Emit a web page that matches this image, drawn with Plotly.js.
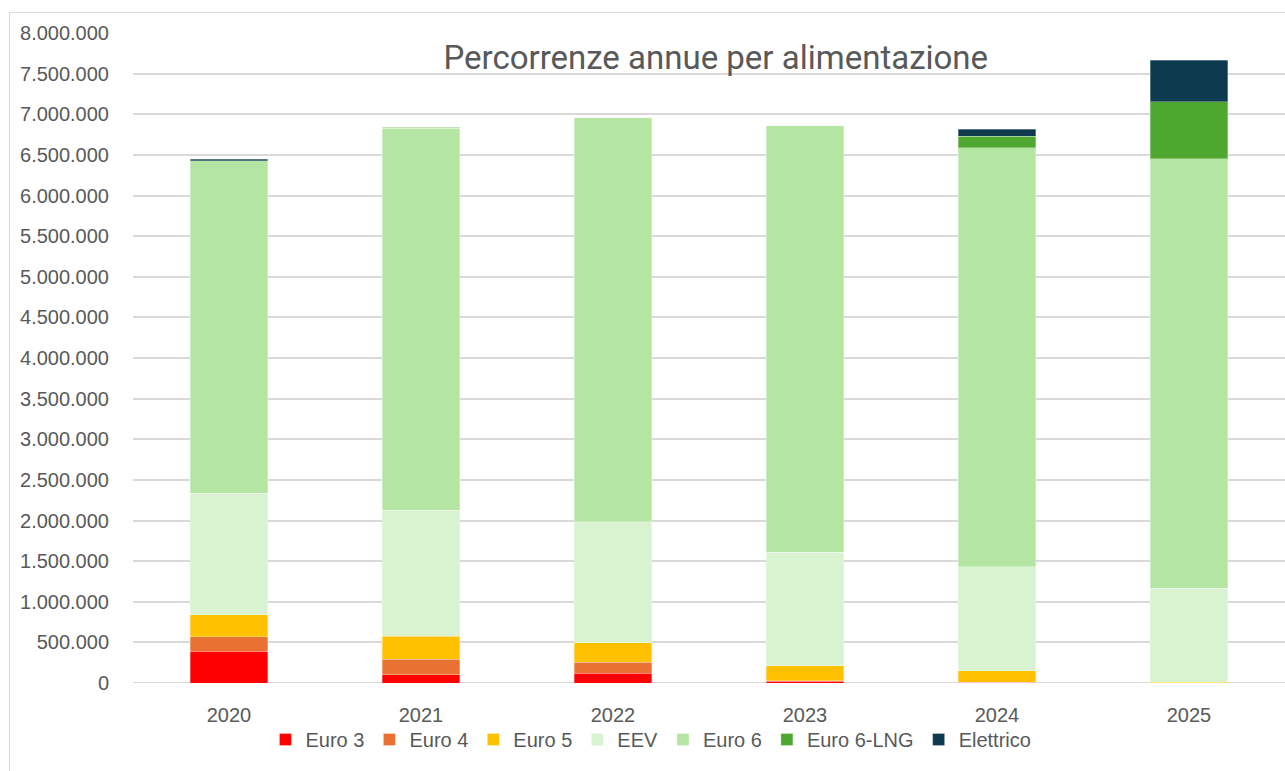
<!DOCTYPE html>
<html>
<head>
<meta charset="utf-8">
<script src="https://cdn.plot.ly/plotly-3.0.1.min.js"></script>
<style>
html,body{margin:0;padding:0;background:#fff;}
#frame{position:absolute;left:9px;top:12px;width:1290px;height:770px;border:1px solid #d9d9d9;box-sizing:border-box;}
#chart{position:absolute;left:0;top:0;width:1285px;height:771px;}
</style>
</head>
<body>
<div id="frame"></div>
<div id="chart"></div>
<script>
const years = ["2020", "2021", "2022", "2023", "2024", "2025"];
const seriesNames = ["Euro 3", "Euro 4", "Euro 5", "EEV", "Euro 6", "Euro 6-LNG", "Elettrico"];
const colors = ["#FF0000", "#E97132", "#FFC000", "#D9F2D0", "#B4E5A2", "#4EA72E", "#0E3A4F"];
const euro3 = [390000, 100000, 120000, 20000, 10000, 0];
const euro4 = [180000, 190000, 135000, 10000, 0, 0];
const euro5 = [267000, 288000, 241000, 180000, 138000, 10000];
const eev = [1500000, 1550000, 1490000, 1400000, 1282000, 1155000];
const euro6 = [4090000, 4700000, 4970000, 5250000, 5160000, 5290000];
const euro6lng = [0, 10000, 0, 0, 140000, 700000];
const elettrico = [20000, 0, 0, 0, 85000, 510000];
const values = [euro3, euro4, euro5, eev, euro6, euro6lng, elettrico];

const traces = seriesNames.map((n, i) => ({
  type: "bar",
  name: n,
  x: years,
  y: values[i],
  marker: {color: colors[i], line: {color: "rgba(255,255,255,0.6)", width: 0.5}},
  hoverinfo: "x+y+name"
}));

function fmt(v){ if(v===0) return "0"; return String(v).replace(/\B(?=(\d{3})+(?!\d))/g, "."); }
const tickVals = [];
const tickText = [];
for (let v = 0; v <= 8000000; v += 500000) { tickVals.push(v); tickText.push(fmt(v)); }

const layout = {
  width: 1285, height: 771,
  paper_bgcolor: "rgba(0,0,0,0)", plot_bgcolor: "rgba(0,0,0,0)",
  barmode: "stack",
  bargap: 0.595,
  margin: {l: 133, r: 0, t: 33, b: 88},
  font: {family: "Liberation Sans, Arial, sans-serif", color: "#595959", size: 20},
  title: {
    text: "Percorrenze annue per alimentazione",
    font: {family: "Liberation Sans Narrow, Roboto, Arial Narrow, sans-serif", size: 33, color: "#595959"},
    x: 0.557, xanchor: "center", y: 0.925, yanchor: "middle"
  },
  xaxis: {
    type: "category",
    showgrid: false, zeroline: false, showline: false,
    ticks: "", tickfont: {size: 20, color: "#595959"},
    ticklabelstandoff: 18
  },
  yaxis: {
    range: [0, 8000000],
    tickvals: tickVals, ticktext: tickText,
    showgrid: true, gridcolor: "#D9D9D9", gridwidth: 2,
    zeroline: false, showline: false,
    ticks: "", tickfont: {size: 20, color: "#595959"},
    ticklabelstandoff: 23
  },
  showlegend: true,
  legend: {
    orientation: "h", x: 0.115, xanchor: "left", y: -0.057, yanchor: "top",
    font: {size: 20, color: "#595959"}, traceorder: "normal",
    itemwidth: 30, itemclick: false
  },
  shapes: [{type: "line", xref: "paper", yref: "y", x0: 0, x1: 1, y0: 0, y1: 0, line: {color: "#D9D9D9", width: 2}, layer: "below"}]
};

Plotly.newPlot("chart", traces, layout, {displayModeBar: false, staticPlot: true});
</script>
</body>
</html>
